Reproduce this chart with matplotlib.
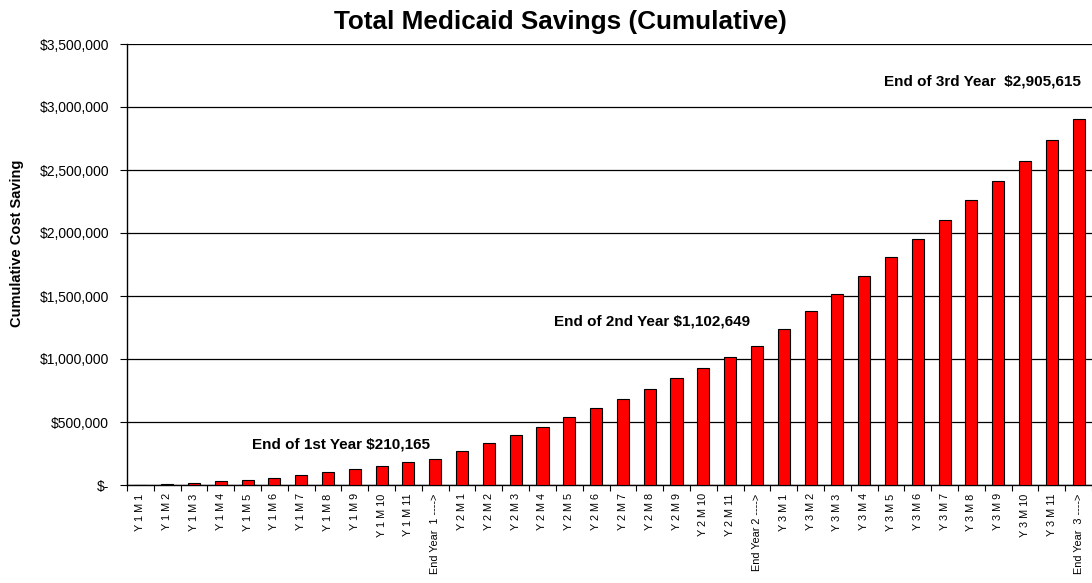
import matplotlib
matplotlib.use("Agg")
import matplotlib.pyplot as plt
from matplotlib.ticker import FuncFormatter, FixedLocator

plt.rcParams['font.family'] = ['Liberation Sans', 'DejaVu Sans']

categories = (
    [f"Y 1 M {m}" for m in range(1, 12)] + ["End Year  1 ---->"] +
    [f"Y 2 M {m}" for m in range(1, 12)] + ["End Year 2 ---->"] +
    [f"Y 3 M {m}" for m in range(1, 12)] + ["End Year  3 ---->"]
)
year1 = [0, 8000, 16000, 32000, 42000, 56000, 80000, 103000, 127000, 148000, 180000, 210165]
year2 = [270000, 331000, 399000, 463000, 540000, 608000, 685000, 762000, 847000, 929000, 1013000, 1102649]
year3 = [1237700, 1377000, 1513700, 1661000, 1808700, 1953500, 2106600, 2259600, 2415300, 2573800, 2737700, 2905615]
values = year1 + year2 + year3

annotations = [
    ("End of 1st Year $210,165", 7.5, 325000),
    ("End of 2nd Year $1,102,649", 19.1, 1294000),
    ("End of 3rd Year  $2,905,615", 31.4, 3206000),
]

fig = plt.figure(figsize=(10.92, 5.83), dpi=100)
ax = fig.add_axes([127/1092, 1 - 485/583, (1092-127)/1092, (485-44)/583])

x = list(range(len(categories)))
ax.bar(x, values, width=0.45, color="#FF0000", edgecolor="black", linewidth=0.8, zorder=3)

ax.set_xlim(-0.5, len(categories) - 0.5)
ax.set_ylim(0, 3500000)
ax.yaxis.set_major_locator(FixedLocator(range(0, 3500001, 500000)))
ax.yaxis.set_major_formatter(FuncFormatter(lambda v, p: "$-" if v == 0 else f"${v:,.0f}"))
ax.grid(axis="y", color="black", linewidth=0.9, zorder=0)

ax.set_xticks(x)
ax.set_xticklabels(categories, rotation=90, fontsize=7.8, va="top", ha="center")
ax.tick_params(axis="x", length=0, pad=6)
ax.set_xticks([i + 0.5 for i in range(-1, len(categories))], minor=True)
ax.tick_params(axis="x", which="minor", length=4, direction="out", width=0.8)
ax.tick_params(axis="y", length=5, direction="out", labelsize=10, width=0.8, pad=8)

for s in ["top", "right"]:
    ax.spines[s].set_visible(False)
for s in ["left", "bottom"]:
    ax.spines[s].set_linewidth(1.0)

ax.set_ylabel("Cumulative Cost Saving", fontsize=10.5, fontweight="bold")
ax.yaxis.set_label_coords((24 - 127) / 965, (485 - 243) / 441)
fig.text(560/1092, 1 - 22/583, "Total Medicaid Savings (Cumulative)", fontsize=18.8,
         fontweight="bold", ha="center", va="center")

for txt, xi, yv in annotations:
    ax.text(xi, yv, txt, fontsize=11, fontweight="bold", ha="center", va="center")

fig.savefig("out.png", dpi=100)
